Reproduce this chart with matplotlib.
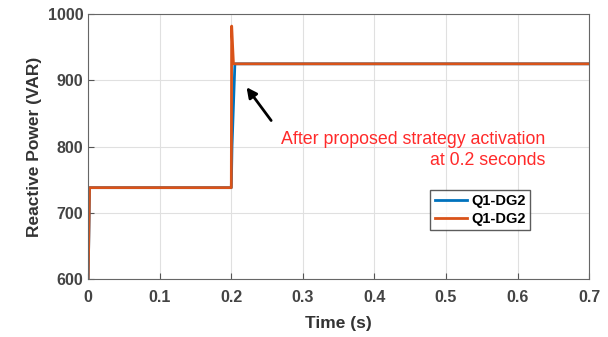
import matplotlib
matplotlib.use("Agg")
import matplotlib.pyplot as plt

plt.rcParams["font.family"] = ["Liberation Sans", "DejaVu Sans"]

# Reactive power of DG2 (two traces, same label as in the original figure)
t_blue = [0.0, 0.002, 0.2, 0.201, 0.205, 0.7]
q_blue = [600, 738, 738, 800, 925, 925]
t_orange = [0.0, 0.002, 0.2, 0.2005, 0.203, 0.7]
q_orange = [600, 738, 738, 982, 925, 925]
labels = ["Q1-DG2", "Q1-DG2"]

xticks = [0, 0.1, 0.2, 0.3, 0.4, 0.5, 0.6, 0.7]
yticks = [600, 700, 800, 900, 1000]

fig = plt.figure(figsize=(6.08, 3.37), dpi=100)
ax = fig.add_axes([0.145, 0.172, 0.824, 0.786])

ax.plot(t_blue, q_blue, color="#0072BD", lw=2, label=labels[0])
ax.plot(t_orange, q_orange, color="#D95319", lw=2, label=labels[1])

ax.set_xlim(0, 0.7)
ax.set_ylim(600, 1000)
ax.set_xticks(xticks)
ax.set_xticklabels([f"{v:g}" for v in xticks])
ax.set_yticks(yticks)
ax.grid(True, color="#e0e0e0", lw=0.8)
ax.tick_params(direction="in", length=4, color="#555555", labelsize=11.5)
ax.tick_params(axis="x", pad=8)
for lab in ax.get_xticklabels() + ax.get_yticklabels():
    lab.set_fontweight("bold")
    lab.set_color("#444444")
for s in ax.spines.values():
    s.set_color("#666666")

ax.set_xlabel("Time (s)", fontsize=12.5, fontweight="bold", color="#333333", labelpad=8)
ax.set_ylabel("Reactive Power (VAR)", fontsize=12.5, fontweight="bold", color="#333333")

ax.annotate("", xy=(0.219, 893), xytext=(0.258, 836),
            arrowprops=dict(arrowstyle="-|>", color="black", lw=2, mutation_scale=15))
ax.text(0.6385, 795, "After proposed strategy activation\nat 0.2 seconds",
        ha="right", va="center", multialignment="right",
        color="#ff2a2a", fontsize=12.8, linespacing=1.35)

leg = ax.legend(loc="upper left", bbox_to_anchor=(0.683, 0.336),
                prop={"weight": "bold", "size": 10.5}, fancybox=False,
                edgecolor="#333333", handlelength=2.2, handletextpad=0.3,
                borderpad=0.3, labelspacing=0.25, borderaxespad=0)
leg.get_frame().set_linewidth(1)

fig.savefig("out.png", dpi=100)
